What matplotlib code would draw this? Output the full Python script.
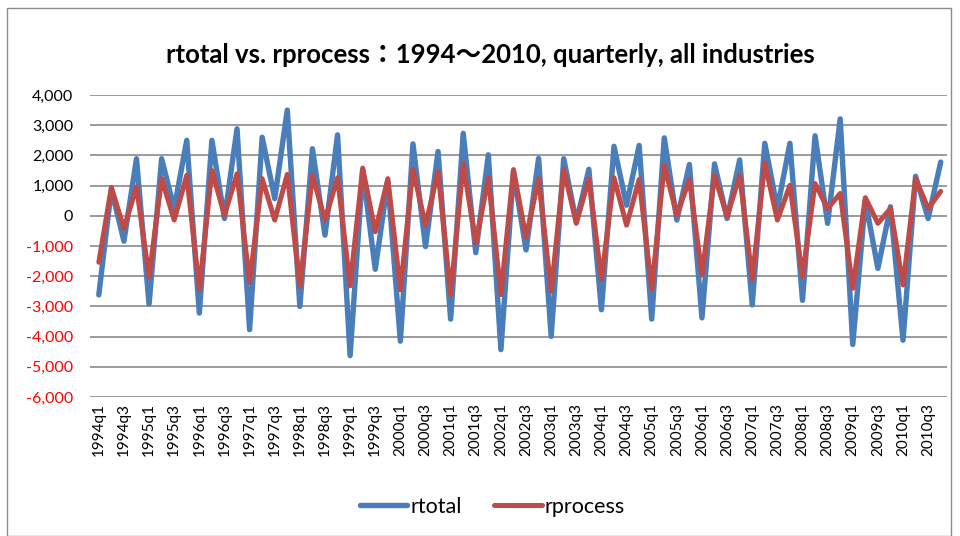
import numpy as np
import matplotlib
matplotlib.use("Agg")
import matplotlib.pyplot as plt
from matplotlib.patches import Rectangle
from matplotlib.ticker import FuncFormatter

# -- data ---------------------------------------------------------------------
quarters = [f"{y}q{q}" for y in range(1994, 2011) for q in range(1, 5)]

rtotal = [
    -2620, 880, -840, 1890, -2920, 1890, 240, 2500, -3220, 2500, -90, 2880,
    -3770, 2600, 570, 3500, -3000, 2220, -640, 2680, -4630, 1500, -1770, 1150,
    -4150, 2380, -1020, 2130, -3420, 2730, -1220, 2020, -4430, 1450, -1130, 1900,
    -3990, 1890, -200, 1540, -3110, 2300, 350, 2330, -3420, 2580, -140, 1700,
    -3380, 1720, -90, 1850, -2950, 2400, 240, 2400, -2800, 2650, -250, 3210,
    -4260, 500, -1740, 300, -4120, 1310, -90, 1780,
]
rprocess = [
    -1540, 940, -420, 960, -2030, 1230, -140, 1340, -2450, 1500, 20, 1390,
    -2210, 1230, -140, 1370, -2340, 1340, -140, 1260, -2320, 1580, -530, 1230,
    -2450, 1540, -310, 1470, -2610, 1720, -910, 1260, -2610, 1530, -720, 1230,
    -2500, 1540, -250, 1230, -2120, 1260, -310, 1200, -2430, 1670, 20, 1200,
    -1960, 1340, -30, 1340, -2100, 1750, -140, 1010, -2010, 1070, 240, 740,
    -2400, 600, -250, 240, -2290, 1230, 240, 810,
]
tick_labels = quarters[::2]

# -- plot ---------------------------------------------------------------------
plt.rcParams["font.family"] = ["Lato", "Noto Sans CJK JP", "DejaVu Sans"]

fig = plt.figure(figsize=(9.6, 5.36), dpi=100)
fig.patches.append(Rectangle((7 / 960, 0), 944 / 960, 528 / 536, transform=fig.transFigure,
                             fill=False, edgecolor="#8c8c8c", linewidth=1.0))

ax = fig.add_axes([90 / 960, 1 - 397 / 536, 857 / 960, 302 / 536])
x = np.arange(len(quarters))
ax.plot(x, rtotal, color="#4A7EBB", linewidth=3.9, label="rtotal",
        solid_joinstyle="round", solid_capstyle="round", zorder=3)
ax.plot(x, rprocess, color="#BE4B48", linewidth=3.6, label="rprocess",
        solid_joinstyle="round", solid_capstyle="round", zorder=4)

ax.set_xlim(-0.7, len(quarters) - 0.5)
ax.set_ylim(-6000, 4000)
ax.set_yticks(np.arange(-6000, 4001, 1000))
ax.yaxis.set_major_formatter(FuncFormatter(lambda v, p: f"{int(v):,}"))
ax.grid(axis="y", color="#8a8a8a", linewidth=1.2)
ax.set_axisbelow(True)
for s in ax.spines.values():
    s.set_visible(False)
ax.tick_params(axis="y", length=0, labelsize=11.5, pad=12)
ax.set_xticks(x[::2])
ax.set_xticklabels(tick_labels, rotation=90, fontsize=11)
ax.tick_params(axis="x", length=0, pad=4)

fig.canvas.draw()
for t, v in zip(ax.get_yticklabels(), ax.get_yticks()):
    t.set_color("red" if v < 0 else "black")

fig.text(0.511, 1 - 55 / 536, "rtotal vs. rprocess\uff1a1994\uff5e2010, quarterly, all industries",
         ha="center", va="center", fontsize=18.5, fontweight="bold")

fig.legend(loc="center", bbox_to_anchor=(0.513, 1 - 507 / 536), ncol=2, frameon=False,
           fontsize=15.5, handlelength=2.2, handletextpad=0.15, columnspacing=1.5)

fig.savefig("out.png", dpi=100)
